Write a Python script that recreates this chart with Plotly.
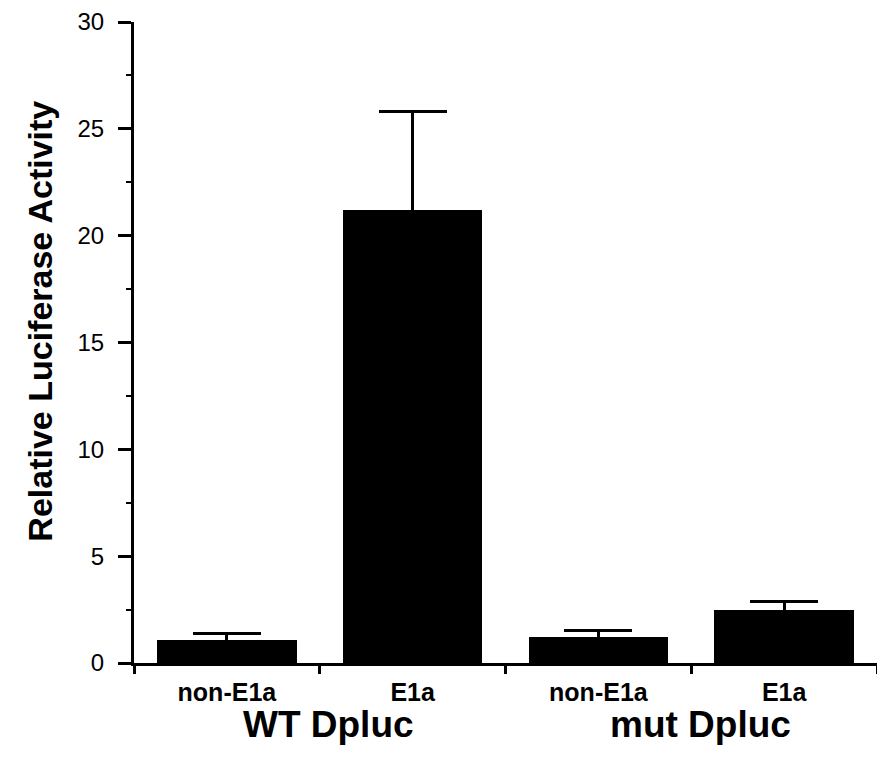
import plotly.graph_objects as go

# ---- data ----
groups = ["WT Dpluc", "WT Dpluc", "mut Dpluc", "mut Dpluc"]
conditions = ["non-E1a", "E1a", "non-E1a", "E1a"]
values = [1.1, 21.2, 1.2, 2.5]
errors = [0.3, 4.6, 0.3, 0.4]
y_ticks = [0, 5, 10, 15, 20, 25, 30]
y_title = "Relative Luciferase Activity"

FONT = "Liberation Sans, Arial, Helvetica, sans-serif"

xpos = list(range(len(conditions)))

fig = go.Figure()
fig.add_trace(go.Bar(
    x=xpos, y=values, width=0.75,
    marker=dict(color="black", line=dict(width=0)),
    error_y=dict(type="data", array=errors, symmetric=True,
                 color="black", thickness=3, width=34),
    showlegend=False,
))

# group labels centred under their categories
group_names = []
for g in groups:
    if g not in group_names:
        group_names.append(g)
annotations = []
for g in group_names:
    idx = [i for i, gg in enumerate(groups) if gg == g]
    cx = sum(xpos[i] for i in idx) / len(idx)
    annotations.append(dict(
        x=cx, y=-0.096, xref="x", yref="paper", text=g, showarrow=False,
        xanchor="center", yanchor="middle", xshift=9,
        font=dict(family=FONT, size=37, color="black", weight="bold"),
    ))

annotations.append(dict(
    x=-0.127, y=0.5335, xref="paper", yref="paper", text=y_title,
    textangle=-90, showarrow=False, xanchor="center", yanchor="middle",
    font=dict(family=FONT, size=34, color="black", weight="bold"),
))

fig.update_layout(
    width=877, height=761,
    margin=dict(l=134, r=0, t=22, b=98),
    paper_bgcolor="white", plot_bgcolor="white",
    bargap=0,
    annotations=annotations,
    xaxis=dict(
        range=[-0.5, 3.5],
        tickmode="array", tickvals=xpos, ticktext=conditions,
        ticks="", showgrid=False, zeroline=False,
        showline=True, linecolor="black", linewidth=3,
        tickfont=dict(family=FONT, size=25, color="black", weight="bold"),
        ticklabelstandoff=5,
        minor=dict(ticks="outside", tick0=-0.5, dtick=1, ticklen=8,
                   tickwidth=3, tickcolor="black", showgrid=False),
        fixedrange=True,
    ),
    yaxis=dict(
        range=[0, 30],
        tickmode="array", tickvals=y_ticks,
        ticks="outside", ticklen=13, tickwidth=3, tickcolor="black",
        showgrid=False, zeroline=False,
        showline=True, linecolor="black", linewidth=3,
        tickfont=dict(family=FONT, size=24, color="black"),
        ticklabelstandoff=9,
        minor=dict(ticks="outside", tick0=2.5, dtick=5, ticklen=5,
                   tickwidth=2, tickcolor="black", showgrid=False),
        fixedrange=True,
    ),
)

fig.write_html("out.html")
